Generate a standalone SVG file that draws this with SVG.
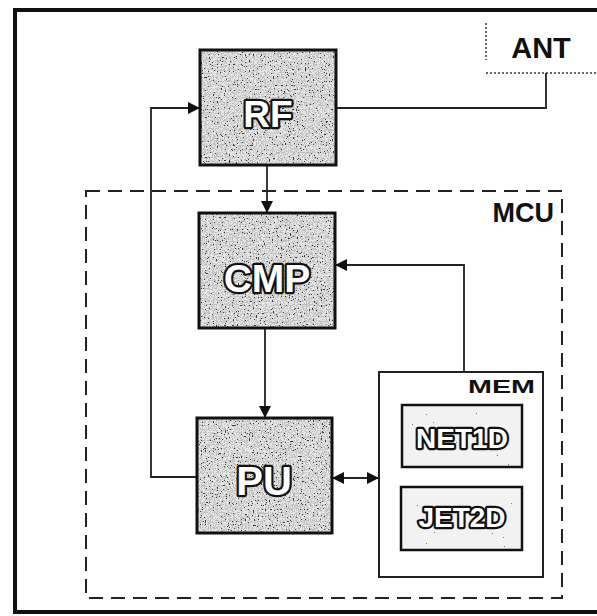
<svg xmlns="http://www.w3.org/2000/svg" width="597" height="616" viewBox="0 0 597 616">
  <style>
    .frame { fill: none; stroke: #111; stroke-width: 4; }
    .mcu { fill: none; stroke: #222; stroke-width: 2; stroke-dasharray: 14 8; }
    .box { stroke: #111; stroke-width: 3; }
    .sub { stroke: #111; stroke-width: 2.5; }
    .wire { fill: none; stroke: #222; stroke-width: 1.8; }
    .dotted { fill: none; stroke: #333; stroke-width: 1.5; stroke-dasharray: 2 2; }
    .big { font-family: "Liberation Sans", Arial, sans-serif; font-weight: bold; fill: #fff; stroke: #111; stroke-width: 4.5; paint-order: stroke; stroke-linejoin: round; text-anchor: middle; }
    .lbl { font-family: "Liberation Sans", Arial, sans-serif; font-weight: bold; fill: #111; }
  </style>
  <defs>
    <filter id="speckle" x="0" y="0" width="100%" height="100%" filterUnits="objectBoundingBox">
      <feTurbulence type="fractalNoise" baseFrequency="0.75" numOctaves="2" seed="4" result="n"/>
      <feColorMatrix type="matrix" in="n" values="0 0 0 0 0  0 0 0 0 0  0 0 0 0 0  1.8 0 0 0 -0.6" result="a"/>
      <feComponentTransfer in="a" result="b">
        <feFuncA type="discrete" tableValues="0 0.35 0.95"/>
      </feComponentTransfer>
      <feFlood flood-color="#e4e4e4" result="bg"/>
      <feComposite in="b" in2="bg" operator="over"/>
    </filter>
    <filter id="speckleLight" x="0" y="0" width="100%" height="100%" filterUnits="objectBoundingBox">
      <feTurbulence type="fractalNoise" baseFrequency="0.9" numOctaves="2" seed="9" result="n"/>
      <feColorMatrix type="matrix" in="n" values="0 0 0 0 0  0 0 0 0 0  0 0 0 0 0  1.6 0 0 0 -0.55" result="a"/>
      <feComponentTransfer in="a" result="b">
        <feFuncA type="discrete" tableValues="0 0 0 0.8"/>
      </feComponentTransfer>
      <feFlood flood-color="#f2f2f2" result="bg"/>
      <feComposite in="b" in2="bg" operator="over"/>
    </filter>
    <marker id="arr" viewBox="0 0 12 12" refX="12" refY="6" markerWidth="12" markerHeight="12" markerUnits="userSpaceOnUse" orient="auto-start-reverse">
      <path d="M0,0 L12,6 L0,12 Z" fill="#111"/>
    </marker>
  </defs>

  <rect width="597" height="616" fill="#fff"/>

  <!-- outer frame (open to the right edge) -->
  <rect class="frame" x="15" y="10" width="600" height="602"/>

  <!-- MCU dashed boundary -->
  <g id="mcu">
    <rect class="mcu" x="86" y="191" width="476" height="407"/>
    <text class="lbl" x="554" y="222" font-size="27" text-anchor="end">MCU</text>
  </g>

  <!-- ANT -->
  <g id="ant">
    <path class="dotted" d="M486,23 V60 M486,73 H597"/>
    <text class="lbl" x="541" y="58" font-size="29" text-anchor="middle">ANT</text>
  </g>

  <!-- connectors -->
  <g id="connectors">
    <path class="wire" d="M336,108 H546 V73"/>
    <path class="wire" d="M197,477 H151 V108 H200" marker-end="url(#arr)"/>
    <path class="wire" d="M267,165 V213" marker-end="url(#arr)"/>
    <path class="wire" d="M265,328 V418" marker-end="url(#arr)"/>
    <path class="wire" d="M464,372 V265 H335" marker-end="url(#arr)"/>
    <path class="wire" d="M332,478 H379" marker-start="url(#arr)" marker-end="url(#arr)"/>
  </g>

  <!-- RF -->
  <g id="rf">
    <rect x="200" y="50" width="136" height="115" filter="url(#speckle)"/>
    <rect class="box" x="200" y="50" width="136" height="115" fill="none"/>
    <text class="big" x="268" y="127" font-size="37">RF</text>
  </g>

  <!-- CMP -->
  <g id="cmp">
    <rect x="199" y="213" width="136" height="115" filter="url(#speckle)"/>
    <rect class="box" x="199" y="213" width="136" height="115" fill="none"/>
    <text class="big" x="267" y="292" font-size="39">CMP</text>
  </g>

  <!-- PU -->
  <g id="pu">
    <rect x="197" y="418" width="135" height="115" filter="url(#speckle)"/>
    <rect class="box" x="197" y="418" width="135" height="115" fill="none"/>
    <text class="big" x="264" y="495" font-size="40">PU</text>
  </g>

  <!-- MEM -->
  <g id="mem">
    <rect x="379" y="372" width="164" height="205" fill="#fff" stroke="#222" stroke-width="2"/>
    <text class="lbl" x="468" y="393" font-size="18" textLength="67" lengthAdjust="spacingAndGlyphs">MEM</text>
  </g>

  <g id="net1d">
    <rect x="402" y="405" width="120" height="62" filter="url(#speckleLight)"/>
    <rect class="sub" x="402" y="405" width="120" height="62" fill="none"/>
    <text class="big" x="462" y="448" font-size="28" stroke-width="3">NET1D</text>
  </g>

  <g id="jet2d">
    <rect x="401" y="487" width="121" height="63" filter="url(#speckleLight)"/>
    <rect class="sub" x="401" y="487" width="121" height="63" fill="none"/>
    <text class="big" x="462" y="527" font-size="28" stroke-width="3">JET2D</text>
  </g>
</svg>
